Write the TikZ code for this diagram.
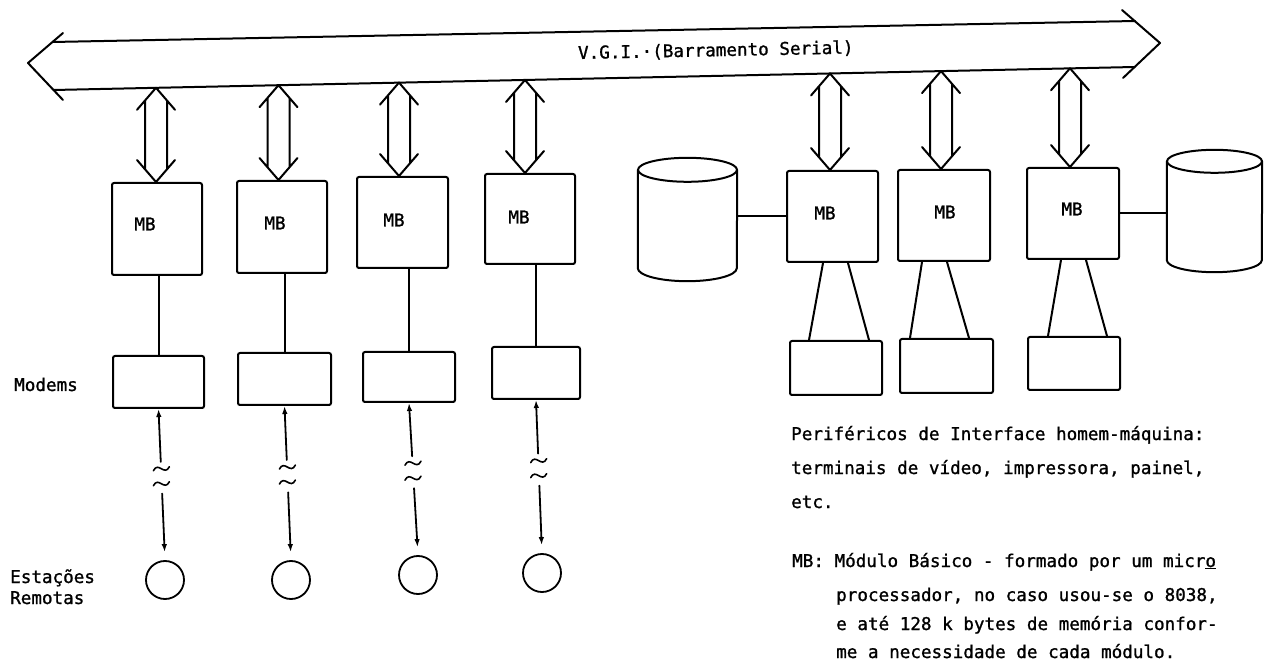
\documentclass[tikz,border=0pt]{standalone}
\usepackage{fontspec}
\newfontfamily\typewriter[FakeBold=1.2]{DejaVu Sans Mono}
\usetikzlibrary{arrows.meta,calc}

\tikzset{
  wire/.style={line width=2pt, line cap=round, line join=round},
  unitbox/.style={draw, line width=2pt, rounded corners=2pt, inner sep=0pt},
  station/.style={draw, circle, line width=1.8pt, minimum size=38pt, inner sep=0pt},
  txt/.style={font=\typewriter\fontsize{17.6}{21}\selectfont, inner sep=0pt},
  brk/.pic={
    \draw[line width=1.6pt, line cap=round] (-8,-5.5) .. controls (-3,-15.5) and (3,0.5) .. (8,-9.5);
    \draw[line width=1.6pt, line cap=round] (-8,9.5) .. controls (-3,-0.5) and (3,15.5) .. (8,5.5);
  }
}

% wide double-headed arrow from a point on the bus down to a module
\newcommand\fatlink[2]{%
  \draw[wire] let \p1=(#1), \p2=(#2.north) in
    (\x1-19pt,\y1-22pt) -- (\x1,\y1) -- (\x1+19pt,\y1-22pt)
    (\x1-11pt,\y1-12.7pt) -- (\x1-11pt,\y2+12.7pt)
    (\x1+11pt,\y1-12.7pt) -- (\x1+11pt,\y2+12.7pt)
    (\x1-19pt,\y2+22pt) -- (\x1,\y2) -- (\x1+19pt,\y2+22pt);}

\begin{document}
\begin{tikzpicture}[x=1pt, y=-1pt, >={Latex[length=8pt,width=5.5pt]}]
\useasboundingbox (0,0) rectangle (1270,668);

% ---------------- serial bus ----------------
\draw[wire] (63,33) -- (28,63) -- (63,100);
\draw[wire] (1122,10) -- (1160,43) -- (1123,78);
\draw[wire] (52.5,42) -- (1135,21);
\draw[wire] (53.5,90) -- (1134.6,67);
\node[txt, anchor=base west, rotate=1.15] (vgi) at (578,59) {V.G.I.·(Barramento Serial)};

% taps on the lower edge of the bus
\coordinate (a1) at (156,87.8);
\coordinate (a2) at (278.5,85.2);
\coordinate (a3) at (399,82.6);
\coordinate (a4) at (525,80.0);
\coordinate (b1) at (830,73.5);
\coordinate (b2) at (941,71.1);
\coordinate (b3) at (1070,68.3);

% ---------------- basic modules ----------------
\node[unitbox, minimum width=90pt, minimum height=92pt] (m1) at (157,229) {};
\node[unitbox, minimum width=90pt, minimum height=92pt] (m2) at (282,227) {};
\node[unitbox, minimum width=91pt, minimum height=91pt] (m3) at (402.5,222.5) {};
\node[unitbox, minimum width=90pt, minimum height=90pt] (m4) at (530,219) {};
\node[unitbox, minimum width=91pt, minimum height=91pt] (r1) at (832.5,216.5) {};
\node[unitbox, minimum width=92pt, minimum height=91pt] (r2) at (944,215.5) {};
\node[unitbox, minimum width=92pt, minimum height=91pt] (r3) at (1073,213.5) {};

\node[txt] (t1) at (145,224) {MB};
\node[txt] (t2) at (275,223) {MB};
\node[txt] (t3) at (394,220) {MB};
\node[txt] (t4) at (519,217) {MB};
\node[txt] (u1) at (825,213) {MB};
\node[txt] (u2) at (945,212) {MB};
\node[txt] (u3) at (1072,209) {MB};

\fatlink{a1}{m1}
\fatlink{a2}{m2}
\fatlink{a3}{m3}
\fatlink{a4}{m4}
\fatlink{b1}{r1}
\fatlink{b2}{r2}
\fatlink{b3}{r3}

% ---------------- modems and remote stations ----------------
\node[unitbox, minimum width=91pt, minimum height=52pt] (d1) at (158.5,382) {};
\node[unitbox, minimum width=93pt, minimum height=52pt] (d2) at (284.5,379) {};
\node[unitbox, minimum width=92pt, minimum height=50pt] (d3) at (409,377) {};
\node[unitbox, minimum width=88pt, minimum height=52pt] (d4) at (536,373) {};

\foreach \i in {1,...,4}{
  \draw[wire] (d\i.north |- m\i.south) -- (d\i.north);
}

\node[station] (s1) at (165,580) {};
\node[station] (s2) at (291,580) {};
\node[station] (s3) at (418,575) {};
\node[station] (s4) at (542,573) {};

\foreach \i in {1,...,4}{
  \draw[wire, line width=1.8pt, <-] (d\i.south) -- ($(d\i.south)!0.35!(s\i.north)$);
  \draw[wire, line width=1.8pt, ->, shorten >=8pt] ($(d\i.south)!0.56!(s\i.north)$) -- (s\i.north);
  \pic at ($(d\i.south)!0.445!(s\i.north)$) {brk};
}

\node[txt, anchor=base west] (modems) at (14,391) {Modems};
\node[txt, anchor=base west] (est1) at (10,583) {Estações};
\node[txt, anchor=base west] (est2) at (10,604) {Remotas};

% ---------------- disks ----------------
\node[minimum width=99pt, minimum height=123pt, inner sep=0pt] (c1) at (687.5,219.5) {};
\draw[wire] ($(c1.north)+(0,12)$) ellipse [x radius=49.5pt, y radius=12pt];
\draw[wire] ($(c1.north west)+(0,12)$) -- ($(c1.south west)+(0,-13)$)
  arc[start angle=180, end angle=360, x radius=49.5pt, y radius=13pt]
  -- ($(c1.north east)+(0,12)$);

\node[minimum width=95pt, minimum height=122pt, inner sep=0pt] (c2) at (1214.5,211) {};
\draw[wire] ($(c2.north)+(0,11.5)$) ellipse [x radius=47.5pt, y radius=11.5pt];
\draw[wire] ($(c2.north west)+(0,11.5)$) -- ($(c2.south west)+(0,-12)$)
  arc[start angle=180, end angle=360, x radius=47.5pt, y radius=12pt]
  -- ($(c2.north east)+(0,11.5)$);

\draw[wire] (r1.west) -- (r1.west -| c1.east);
\draw[wire] (r3.east) -- (r3.east -| c2.west);

% ---------------- man-machine peripherals ----------------
\node[unitbox, minimum width=92pt, minimum height=54pt] (p1) at (836,368) {};
\node[unitbox, minimum width=93pt, minimum height=54pt] (p2) at (946.5,366) {};
\node[unitbox, minimum width=92pt, minimum height=53pt] (p3) at (1074,363.5) {};

\draw[wire] ([xshift=-9.5pt]r1.south) -- ([xshift=-27pt]p1.north);
\draw[wire] ([xshift=15.5pt]r1.south) -- ([xshift=33pt]p1.north);
\draw[wire] ([xshift=-22pt]r2.south) -- ([xshift=-36.5pt]p2.north);
\draw[wire] ([xshift=3pt]r2.south) -- ([xshift=22.5pt]p2.north);
\draw[wire] ([xshift=-12pt]r3.south) -- ([xshift=-26pt]p3.north);
\draw[wire] ([xshift=13pt]r3.south) -- ([xshift=33pt]p3.north);

% ---------------- notes ----------------
\node[txt, anchor=base west] (n1) at (791,440) {Periféricos de Interface homem-máquina:};
\node[txt, anchor=base west] (n2) at (791,474) {terminais de vídeo, impressora, painel,};
\node[txt, anchor=base west] (n3) at (791,508) {etc.};
\node[txt, anchor=base west] (n4) at (792,567) {MB: Módulo Básico - formado por um micr\underline{o}};
\node[txt, anchor=base west] (n5) at (836,601) {processador, no caso usou-se o 8038,};
\node[txt, anchor=base west] (n6) at (836,630) {e até 128 k bytes de memória confor-};
\node[txt, anchor=base west] (n7) at (836,658) {me a necessidade de cada módulo.};
\end{tikzpicture}
\end{document}
